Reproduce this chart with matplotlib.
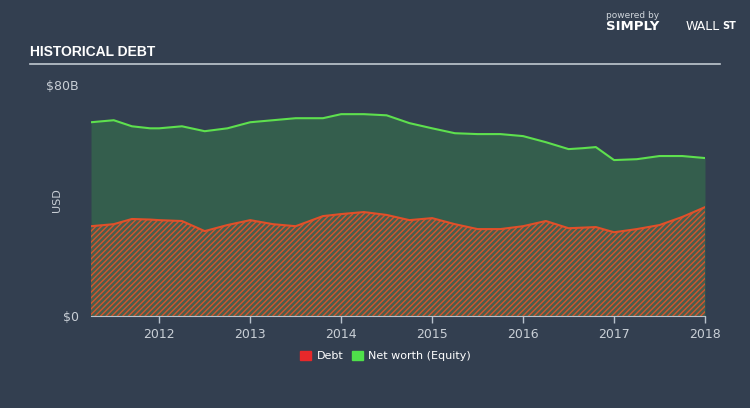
import matplotlib
matplotlib.use("Agg")
import matplotlib.pyplot as plt
from matplotlib.patches import Rectangle

# values (billions USD)
years = [2011.25, 2011.5, 2011.7, 2011.9, 2012.0, 2012.25, 2012.5, 2012.75, 2013.0,
         2013.25, 2013.5, 2013.8, 2014.0, 2014.25, 2014.5, 2014.75, 2015.0, 2015.25,
         2015.5, 2015.75, 2016.0, 2016.25, 2016.5, 2016.65, 2016.8, 2017.0, 2017.25,
         2017.5, 2017.75, 2018.0]
equity = [67.1, 67.8, 65.7, 65.0, 65.0, 65.7, 64.0, 65.0, 67.1,
          67.8, 68.5, 68.5, 69.9, 69.9, 69.5, 66.8, 65.0, 63.3,
          63.0, 63.0, 62.3, 60.2, 57.8, 58.1, 58.5, 54.0, 54.3,
          55.4, 55.4, 54.7]
debt = [31.1, 31.8, 33.6, 33.4, 33.2, 32.9, 29.4, 31.5, 33.2,
        31.8, 31.1, 34.6, 35.3, 36.0, 35.0, 33.2, 33.9, 31.8,
        30.1, 30.1, 31.1, 32.9, 30.4, 30.6, 30.8, 29.0, 30.1,
        31.5, 34.3, 37.7]
xticks = [2012, 2013, 2014, 2015, 2016, 2017, 2018]

bg = "#333f50"
txt = "#c9cfd6"
plt.rcParams["hatch.linewidth"] = 1.0

fig = plt.figure(figsize=(7.5, 4.08), dpi=100, facecolor=bg)
ax = fig.add_axes([91 / 750, 1 - 316 / 408, 614 / 750, 231 / 408])
ax.set_facecolor(bg)

ax.fill_between(years, 0, equity, color="#345e4d", lw=0)
ax.fill_between(years, 0, debt, facecolor="#4a5e4c", edgecolor="#d4552e",
                hatch="//////", lw=0)
ax.plot(years, equity, color="#5ee04e", lw=1.5)
ax.plot(years, debt, color="#e0502a", lw=1.5)

ax.set_xlim(2011.25, 2018.0)
ax.set_ylim(0, 80)
ax.set_yticks([0, 80])
ax.set_yticklabels(["$0", "$80B"])
ax.set_xticks(xticks)
ax.set_xticklabels([str(y) for y in xticks])
for s in ["top", "right", "left"]:
    ax.spines[s].set_visible(False)
ax.spines["bottom"].set_color("#b8c2cc")
ax.tick_params(axis="x", colors=txt, labelsize=9, length=5, width=1, color="#b8c2cc")
ax.tick_params(axis="y", colors=txt, labelsize=9, length=0, pad=9)
ax.set_ylabel("USD", color=txt, fontsize=8)
ax.yaxis.set_label_coords(-0.047, 0.5)

# header
fig.text(30 / 750, 1 - 52 / 408, "HISTORICAL DEBT", color="white", fontsize=10,
         fontweight="bold", family=["Liberation Sans Narrow", "Liberation Sans"],
         va="center")
fig.add_artist(plt.Line2D([30 / 750, 720 / 750], [1 - 64 / 408] * 2,
                          color="#c0c8d0", lw=1.2, transform=fig.transFigure))
fig.text(606 / 750, 1 - 15 / 408, "powered by", color="#d0d6dc", fontsize=6.5, va="center")
fig.text(606 / 750, 1 - 27 / 408, "SIMPLY", color="white", fontsize=9.5,
         fontweight="bold", va="center")
fig.text(686 / 750, 1 - 27 / 408, "WALL", color="white", fontsize=9, va="center")
fig.text(722 / 750, 1 - 26 / 408, "ST", color="white", fontsize=7,
         fontweight="bold", va="center")

# legend
fig.add_artist(Rectangle((300 / 750, 1 - 360 / 408), 11 / 750, 9 / 408,
                         color="#e8282a", transform=fig.transFigure))
fig.text(317 / 750, 1 - 356 / 408, "Debt", color="white", fontsize=8, va="center")
fig.add_artist(Rectangle((352 / 750, 1 - 360 / 408), 11 / 750, 9 / 408,
                         color="#4fe04a", transform=fig.transFigure))
fig.text(368 / 750, 1 - 356 / 408, "Net worth (Equity)", color="white", fontsize=8,
         va="center")

fig.savefig("out.png", dpi=100, facecolor=bg)
